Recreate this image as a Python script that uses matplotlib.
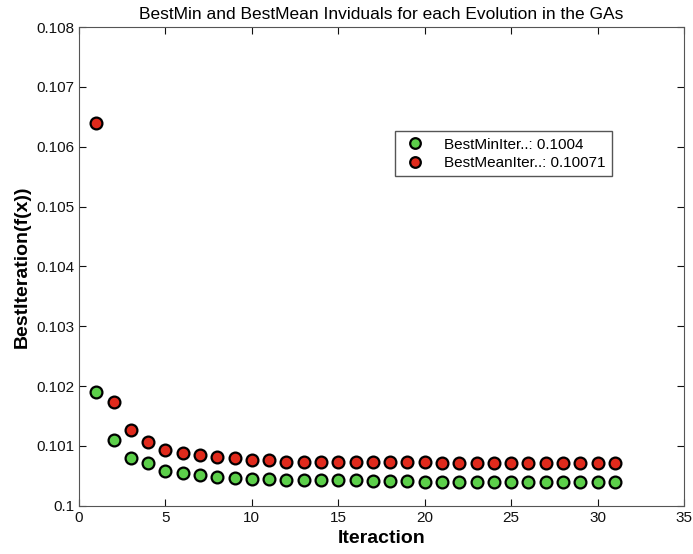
import matplotlib
matplotlib.use("Agg")
import matplotlib.pyplot as plt
import numpy as np

plt.rcParams['font.family'] = ['Liberation Sans', 'DejaVu Sans']

iterations = list(range(1, 32))
best_min = [0.10190, 0.10110, 0.10080, 0.10071, 0.10059, 0.10054, 0.10052, 0.10048,
            0.10047, 0.10044, 0.10044, 0.10043, 0.10043, 0.10043, 0.10043, 0.10043,
            0.10042, 0.10042, 0.10042, 0.10040, 0.10040, 0.10040, 0.10040, 0.10040,
            0.10040, 0.10040, 0.10040, 0.10040, 0.10040, 0.10040, 0.10040]
best_mean = [0.10640, 0.10174, 0.10126, 0.10106, 0.10094, 0.10088, 0.10085, 0.10082,
             0.10080, 0.10077, 0.10076, 0.10074, 0.10074, 0.10074, 0.10074, 0.10074,
             0.10074, 0.10073, 0.10073, 0.10073, 0.10072, 0.10072, 0.10072, 0.10071,
             0.10071, 0.10071, 0.10071, 0.10071, 0.10071, 0.10071, 0.10071]
labels = ["BestMinIter..: 0.1004", "BestMeanIter..: 0.10071"]
title = "BestMin and BestMean Inviduals for each Evolution in the GAs"
xticks = [0, 5, 10, 15, 20, 25, 30, 35]
yticks = [0.1, 0.101, 0.102, 0.103, 0.104, 0.105, 0.106, 0.107, 0.108]

fig = plt.figure(figsize=(6.93, 5.54), dpi=100)
ax = fig.add_axes([0.114, 0.087, 0.873, 0.864])

ax.plot(iterations, best_min, linestyle='none', marker='o', markersize=8.5,
        markerfacecolor='#5ccf4a', markeredgecolor='black', markeredgewidth=1.6, label=labels[0])
ax.plot(iterations, best_mean, linestyle='none', marker='o', markersize=8.5,
        markerfacecolor='#e02a1c', markeredgecolor='black', markeredgewidth=1.6, label=labels[1])

ax.set_xlim(0, 35)
ax.set_ylim(0.1, 0.108)
ax.set_xticks(xticks)
ax.set_yticks(yticks)
ax.set_xticklabels([str(t) for t in xticks])
ax.set_yticklabels(['%g' % t for t in yticks])
ax.tick_params(direction='in', top=True, right=True, length=5, labelsize=11, colors='#111111')
for s in ax.spines.values():
    s.set_color('#555555')

ax.set_title(title, fontsize=12.5, pad=6)
ax.set_xlabel("Iteraction", fontsize=14, fontweight='bold')
ax.set_ylabel("BestIteration(f(x))", fontsize=14, fontweight='bold')

leg = ax.legend(loc='upper left', bbox_to_anchor=(0.51, 0.798), fontsize=11,
                fancybox=False, framealpha=1, edgecolor='#555555',
                handletextpad=1.0, handlelength=1.8, borderpad=0.4, labelspacing=0.3,
                markerscale=0.9)

fig.savefig("out.png", dpi=100)
